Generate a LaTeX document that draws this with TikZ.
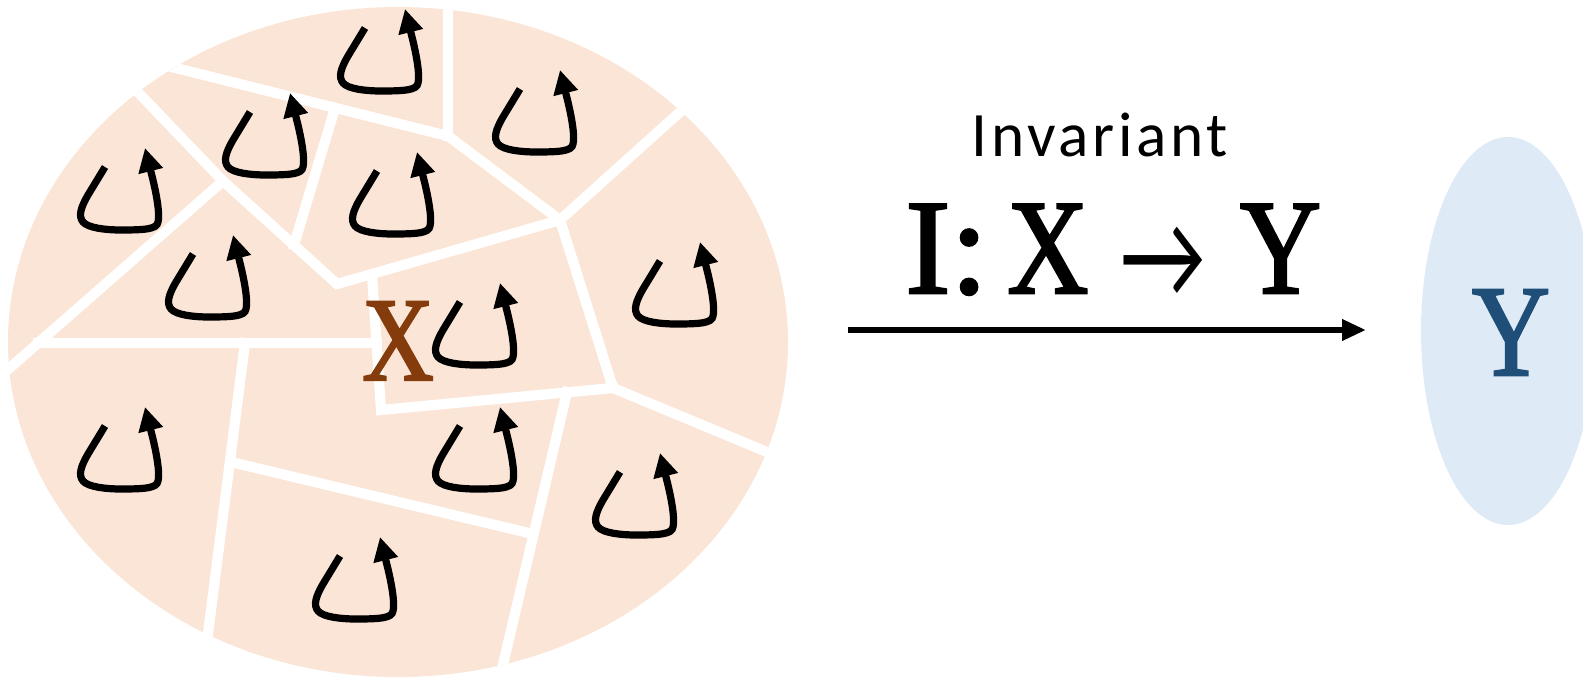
\documentclass[tikz,border=0pt]{standalone}
\usepackage{fontspec}
\setmainfont{Liberation Serif}[FakeBold=2]
\newfontfamily\labelfont{Carlito}
\usetikzlibrary{arrows.meta}

\definecolor{cellfill}{HTML}{FBE5D6}
\definecolor{outfill}{HTML}{DEEBF7}
\definecolor{xbrown}{HTML}{843C0C}
\definecolor{yblue}{HTML}{1F4E79}

\newcommand{\narrowglyph}[1]{\scalebox{0.83}[1]{#1}}

\tikzset{
  cellline/.style={white,line width=5.8pt,line cap=rect},
  cyclearrow/.pic={
    \draw[line width=4.1pt,-{Triangle[length=13.5pt,width=13.5pt]}]
      (-16,-24) -- (-33,4) .. controls (-40,16) and (-43,25) .. (-38,31)
      .. controls (-33,37) and (-15,39) .. (0,39)
      .. controls (25,39) and (36,38) .. (37,31)
      .. controls (39,24) and (36,5) .. (31,-15) -- (24,-43);
  }
}

\begin{document}
\begin{tikzpicture}[x=0.02cm,y=-0.02cm]
\clip (0,0) rectangle (1583,680);

% the space X, cut into cells
\fill[cellfill] (398,342) ellipse [x radius=390,y radius=335];
\begin{scope}
\clip (398,342) ellipse [x radius=390,y radius=335];
\coordinate (ttop) at (448,-10);
\coordinate (jtop) at (448,136);
\coordinate (b0) at (120,54);
\coordinate (a0) at (110,63);
\coordinate (jleft) at (223,181);
\coordinate (xcorner) at (337,284);
\coordinate (e2top) at (335,108);
\coordinate (e2bot) at (294,245);
\coordinate (jright) at (560,220);
\coordinate (d1) at (740,58);
\coordinate (xtop) at (372,275);
\coordinate (xbot) at (381,410);
\coordinate (jmid) at (613,388);
\coordinate (g1) at (820,474);
\coordinate (diag0) at (-20,394);
\coordinate (hleft) at (38,343);
\coordinate (hright) at (377,343);
\coordinate (ktop) at (245,343);
\coordinate (kbot) at (197,720);
\coordinate (lleft) at (231,462);
\coordinate (lright) at (533,534);
\coordinate (mtop) at (567,392);
\coordinate (mbot) at (490,720);
\draw[cellline] (ttop) -- (jtop);
\draw[cellline] (b0) -- (jtop) -- (jright) -- (d1);
\draw[cellline] (a0) -- (jleft) -- (xcorner) -- (jright) -- (jmid) -- (g1);
\draw[cellline] (e2top) -- (e2bot);
\draw[cellline] (jleft) -- (diag0);
\draw[cellline] (hleft) -- (hright);
\draw[cellline] (xtop) -- (xbot) -- (jmid);
\draw[cellline] (ktop) -- (kbot);
\draw[cellline] (lleft) -- (lright);
\draw[cellline] (mtop) -- (mbot);
\end{scope}

% one loop in every cell
\pic at (121,191) {cyclearrow};
\pic at (266,136) {cyclearrow};
\pic at (209,278) {cyclearrow};
\pic at (381,52) {cyclearrow};
\pic at (536,113) {cyclearrow};
\pic at (393,195) {cyclearrow};
\pic at (676,285) {cyclearrow};
\pic at (476,326) {cyclearrow};
\pic at (121,450) {cyclearrow};
\pic at (356,580) {cyclearrow};
\pic at (476,450) {cyclearrow};
\pic at (636,496) {cyclearrow};

\node[anchor=base,inner sep=0pt,text=xbrown,font=\fontsize{68}{80}\selectfont] (xname) at (398,380) {\narrowglyph{X}};

% the map
\coordinate (arrowstart) at (848,330);
\coordinate (arrowend) at (1366,330);
\draw[line width=3.4pt,-{Triangle[length=13.6pt,width=11.5pt]}] (arrowstart) -- (arrowend);
\node[anchor=base,inner sep=0pt,font=\labelfont\fontsize{36}{44}\selectfont\addfontfeature{LetterSpace=5.8}] (invlabel) at (1100,156) {Invariant};
\node[anchor=base west,inner sep=0pt,font=\fontsize{77}{90}\selectfont] (maplabel) at (905,293)
  {I:\hspace{11pt}\narrowglyph{X}\hspace{18pt}\raisebox{-2.8pt}{\scalebox{0.85}[1.11]{\labelfont\fontsize{63}{70}\selectfont →}}\hspace{19.8pt}\narrowglyph{Y}};

% the space Y
\fill[outfill] (1508,331) ellipse [x radius=87,y radius=194];
\node[anchor=base,inner sep=0pt,text=yblue,font=\fontsize{74}{88}\selectfont] (yname) at (1511,375) {\narrowglyph{Y}};
\end{tikzpicture}
\end{document}
